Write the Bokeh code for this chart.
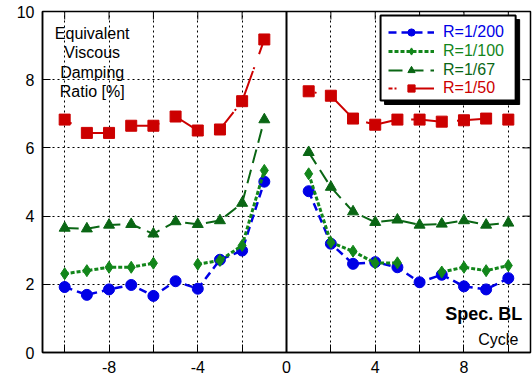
import math
from bokeh.plotting import figure
from bokeh.models import (ColumnDataSource, Range1d, FixedTicker, LinearAxis, Span,
                          Legend, LegendItem, BoxAnnotation, Label)
from bokeh.embed import file_html
from bokeh.resources import INLINE

nan = float("nan")

# ---- data -------------------------------------------------------------
cycles_neg = [-10, -9, -8, -7, -6, -5, -4, -3, -2, -1]
cycles_pos = [1, 2, 3, 4, 5, 6, 7, 8, 9, 10]

r200_neg = [1.92, 1.69, 1.85, 1.98, 1.66, 2.09, 1.87, 2.72, 2.99, 5.01]
r200_pos = [4.73, 3.19, 2.60, 2.65, 2.50, 2.06, 2.28, 1.94, 1.85, 2.18]
r100_neg = [2.31, 2.40, 2.50, 2.50, 2.62, nan, 2.59, 2.70, 3.14, 5.34]
r100_pos = [5.24, 3.23, 2.97, 2.62, 2.63, nan, 2.36, 2.50, 2.40, 2.55]
r67_neg = [3.65, 3.63, 3.74, 3.76, 3.48, 3.84, 3.76, 3.87, 4.38, 6.83]
r67_pos = [5.87, 4.85, 4.13, 3.82, 3.89, 3.74, 3.77, 3.87, 3.74, 3.80]
r50_neg = [6.83, 6.44, 6.44, 6.65, 6.65, 6.92, 6.51, 6.54, 7.37, 9.18]
r50_pos = [7.66, 7.53, 6.86, 6.68, 6.83, 6.83, 6.77, 6.81, 6.86, 6.83]

series_labels = ["R=1/200", "R=1/100", "R=1/67", "R=1/50"]
x_major = [-8, -4, 0, 4, 8]
x_major_labels = ["-8", "-4", "0", "4", "8"]
x_minor = [-10, -6, -2, 2, 6, 10]
y_ticks = [0, 2, 4, 6, 8, 10]
y_tick_labels = ["0", "2", "4", "6", "8", "10"]

FONT = "Liberation Sans"
X0, X1, Y0, Y1 = -11, 11, 0, 10
TICK = 8  # px, inward tick length

p = figure(width=532, height=383, output_backend="svg", toolbar_location=None,
           x_range=Range1d(X0, X1), y_range=Range1d(Y0, Y1),
           x_axis_location=None, y_axis_location=None,
           min_border_left=42, min_border_right=2, min_border_top=11,
           min_border_bottom=31)
p.background_fill_color = "white"
p.border_fill_color = "white"
p.outline_line_color = "black"
p.outline_line_width = 1.5

px_x = 488 / (X1 - X0)   # pixels per x unit
px_y = 341 / (Y1 - Y0)   # pixels per y unit


def style_axis(ax):
    ax.major_tick_in = TICK
    ax.major_tick_out = 0
    ax.minor_tick_in = TICK
    ax.minor_tick_out = 0
    ax.axis_line_color = "black"
    ax.axis_line_width = 1.5
    ax.major_tick_line_color = "black"
    ax.minor_tick_line_color = "black"
    ax.major_tick_line_width = 1
    ax.minor_tick_line_width = 1
    ax.major_label_text_font = FONT
    ax.major_label_text_font_size = "16px"
    ax.major_label_text_color = "black"
    ax.major_label_standoff = 8


xticker = FixedTicker(ticks=x_major, minor_ticks=x_minor)
yticker = FixedTicker(ticks=y_ticks)
xb = LinearAxis(ticker=xticker,
                major_label_overrides=dict(zip(x_major, x_major_labels)))
style_axis(xb)
p.add_layout(xb, "below")
yl = LinearAxis(ticker=yticker,
                major_label_overrides=dict(zip(y_ticks, y_tick_labels)))
style_axis(yl)
p.add_layout(yl, "left")

p.xgrid.ticker = xticker
p.ygrid.ticker = yticker
for g in (p.xgrid, p.ygrid):
    g.grid_line_color = "black"
    g.grid_line_dash = "2 3"
    g.grid_line_width = 1
    g.minor_grid_line_color = "black"
    g.minor_grid_line_dash = "2 3"
    g.minor_grid_line_width = 1

# mirrored inward ticks on the top and right frame edges
all_x = sorted(x_major + x_minor)
p.segment(x0=all_x, x1=all_x, y0=[Y1] * len(all_x), y1=[Y1 - TICK / px_y] * len(all_x),
          line_color="black", line_width=1)
p.segment(x0=[X1] * len(y_ticks), x1=[X1 - TICK / px_x] * len(y_ticks),
          y0=y_ticks, y1=y_ticks, line_color="black", line_width=1)

p.add_layout(Span(location=0, dimension="height", line_color="black", line_width=2))

# ---- series -----------------------------------------------------------
styles = [
    dict(vals=(r200_neg, r200_pos), color="#0000e6", dash="8 5", lw=2.5,
         marker="circle", size=11, offset=0),
    dict(vals=(r100_neg, r100_pos), color="#12861a", dash="4 2", lw=3,
         marker="diamond", size=12, offset=0),
    dict(vals=(r67_neg, r67_pos), color="#0a6614", dash="14 7", lw=2,
         marker="triangle", size=11, offset=0),
    dict(vals=(r50_neg, r50_pos), color="#cc0000", dash="28 2 2 14", lw=2,
         marker="square", size=11, offset=24),
]

legend_refs = []
for st in styles:
    refs = []
    for xs, ys in zip((cycles_neg, cycles_pos), st["vals"]):
        src = ColumnDataSource(dict(x=xs, y=ys))
        lr = p.line("x", "y", source=src, line_color=st["color"], line_width=st["lw"],
                    line_dash=st["dash"], line_dash_offset=st["offset"])
        sr = p.scatter("x", "y", source=src, marker=st["marker"], size=st["size"],
                       fill_color=st["color"], line_color=st["color"])
        refs.append((lr, sr))
    legend_refs.append(refs[0])

# ---- legend box -------------------------------------------------------
box = dict(left=4.24, right=10.33, top=9.88, bottom=7.39)
p.add_layout(BoxAnnotation(left=box["left"] + 4 / px_x, right=box["right"] + 4 / px_x,
                           top=box["top"] - 4 / px_y, bottom=box["bottom"] - 4 / px_y,
                           fill_color="black", fill_alpha=1, line_color="black",
                           line_alpha=1))
p.add_layout(BoxAnnotation(left=box["left"], right=box["right"], top=box["top"],
                           bottom=box["bottom"], fill_color="white", fill_alpha=1,
                           line_color="black", line_width=2, line_alpha=1))

leg_bottoms = [311, 292, 273.5, 255]
for (lr, sr), st, lab, vb in zip(legend_refs, styles, series_labels, leg_bottoms):
    leg = Legend(items=[LegendItem(label=lab, renderers=[lr, sr])],
                 location=(346, vb), margin=0, padding=0, spacing=0,
                 glyph_width=46, glyph_height=18, label_height=18,
                 label_standoff=9, label_text_font=FONT, label_text_font_size="16px",
                 label_text_color=st["color"], background_fill_alpha=0,
                 border_line_alpha=0)
    p.add_layout(leg)

# ---- texts ------------------------------------------------------------
y_title = ["Equivalent", "Viscous", "Damping", "Ratio [%]"]
for i, t in enumerate(y_title):
    p.add_layout(Label(x=-8.76, y=9.35 - i * 0.565, text=t, text_align="center",
                       text_baseline="alphabetic", text_font=FONT,
                       text_font_size="16px", text_color="black"))

p.add_layout(Label(x=10.63, y=1.135, text="Spec. BL", text_align="right",
                   text_baseline="alphabetic", text_font=FONT, text_font_size="18px",
                   text_font_style="bold", text_color="black"))
p.add_layout(Label(x=10.45, y=0.38, text="Cycle", text_align="right",
                   text_baseline="alphabetic", text_font=FONT, text_font_size="16px",
                   text_color="black"))

open("out.html", "w").write(file_html(p, INLINE))
